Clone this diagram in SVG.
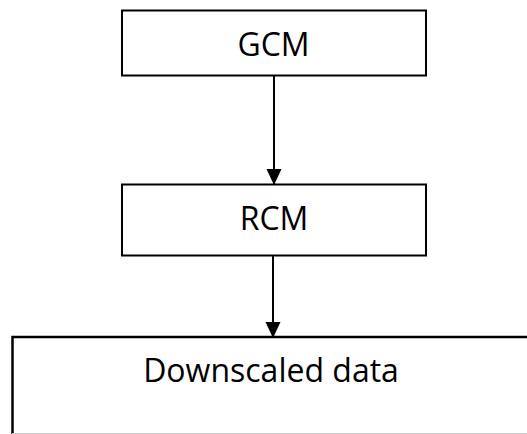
<svg xmlns="http://www.w3.org/2000/svg" width="527" height="434" viewBox="0 0 527 434">
  <style>
    .box { fill: #ffffff; stroke: #000000; stroke-width: 2; }
    .label { font-family: "Open Sans", "Liberation Sans", sans-serif; font-size: 32px; fill: #000000; text-anchor: middle; }
    .link { stroke: #000000; stroke-width: 2; fill: none; }
  </style>
  <defs>
    <marker id="arrow" viewBox="0 0 15 17" refX="15" refY="7.5" markerWidth="15" markerHeight="17" markerUnits="userSpaceOnUse" orient="auto">
      <path d="M0,0 L16,7.5 L0,15 Z" fill="#000000"/>
    </marker>
  </defs>
  <rect width="527" height="434" fill="#ffffff"/>

  <g id="connectors">
    <line class="link" x1="274" y1="76" x2="274" y2="184" marker-end="url(#arrow)"/>
    <line class="link" x1="273" y1="256" x2="273" y2="337" marker-end="url(#arrow)"/>
  </g>

  <g id="gcm">
    <rect class="box" x="122" y="10.5" width="304" height="65"/>
    <text class="label" x="273.5" y="56">GCM</text>
  </g>

  <g id="rcm">
    <rect class="box" x="122" y="184.5" width="304" height="71"/>
    <text class="label" x="274" y="230">RCM</text>
  </g>

  <g id="downscaled">
    <path d="M12.5,434 L12.5,337 L530,337" fill="none" stroke="#000000" stroke-width="2.5"/>
    <line x1="12" y1="433.5" x2="527" y2="433.5" stroke="#c8c8c8" stroke-width="1"/>
    <text class="label" x="271" y="382">Downscaled data</text>
  </g>
</svg>
